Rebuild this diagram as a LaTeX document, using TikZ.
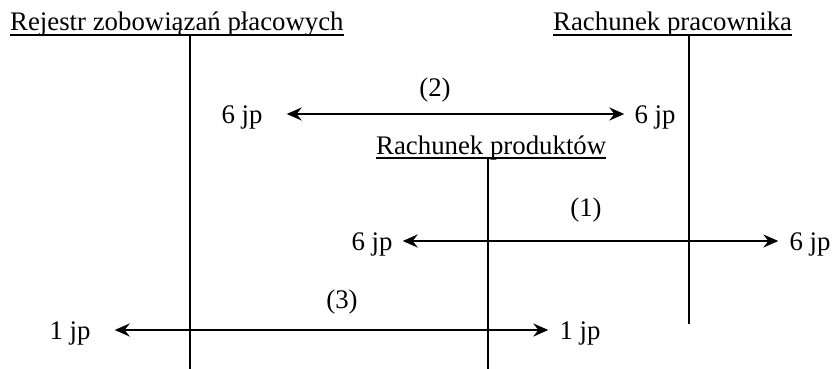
\documentclass[tikz,border=0pt]{standalone}
\usepackage{fontspec}
\setmainfont{Liberation Serif}
\usetikzlibrary{arrows.meta}
\begin{document}
\begin{tikzpicture}[x=1pt,y=-1pt,
  every node/.style={font=\fontsize{26.8}{31}\selectfont, inner sep=0pt},
  hdr/.style={anchor=base west},
  lbl/.style={text height=18pt, text depth=0pt, anchor=center},
  num/.style={anchor=center},
  flow/.style={line width=2.2pt, {Stealth[length=15pt,width=13pt,inset=5pt]}-{Stealth[length=15pt,width=13pt,inset=5pt]}},
  uline/.style={line width=1.8pt},
  axis/.style={line width=1.8pt}]
\useasboundingbox (0,0) rectangle (835,369);
% headers
\node[hdr] (h1) at (10,31) {Rejestr zobowiązań płacowych};
\node[hdr] (h2) at (553,31) {Rachunek pracownika};
\node[hdr] (h3) at (376,154) {Rachunek produktów};
\draw[uline] ([yshift=-4pt]h1.base west) -- ([yshift=-4pt]h1.base east);
\draw[uline] ([yshift=-4pt]h2.base west) -- ([yshift=-4pt]h2.base east);
\draw[uline] ([yshift=-4pt]h3.base west) -- ([yshift=-4pt]h3.base east);
% vertical lines
\coordinate (v1t) at (190,35);  \coordinate (v1b) at (190,369);
\coordinate (v2t) at (689,35);  \coordinate (v2b) at (689,324);
\coordinate (v3t) at (488,158); \coordinate (v3b) at (488,369);
\draw[axis] (v1t) -- (v1b);
\draw[axis] (v2t) -- (v2b);
\draw[axis] (v3t) -- (v3b);
% amounts
\node[lbl] (l2) at (242,114) {6 jp};
\node[lbl] (r2) at (655,114) {6 jp};
\node[lbl] (l1) at (372,241) {6 jp};
\node[lbl] (r1) at (810,241) {6 jp};
\node[lbl] (l3) at (70,330) {1 jp};
\node[lbl] (r3) at (580,330) {1 jp};
% step numbers
\node[num] (n2) at (435,90) {(2)};
\node[num] (n1) at (586,210) {(1)};
\node[num] (n3) at (342,302) {(3)};
% flows
\draw[flow, shorten <=24pt, shorten >=10pt] (l2) -- (r2);
\draw[flow, shorten <=10pt, shorten >=11pt] (l1) -- (r1);
\draw[flow, shorten <=24pt, shorten >=11pt] (l3) -- (r3);
\end{tikzpicture}
\end{document}
